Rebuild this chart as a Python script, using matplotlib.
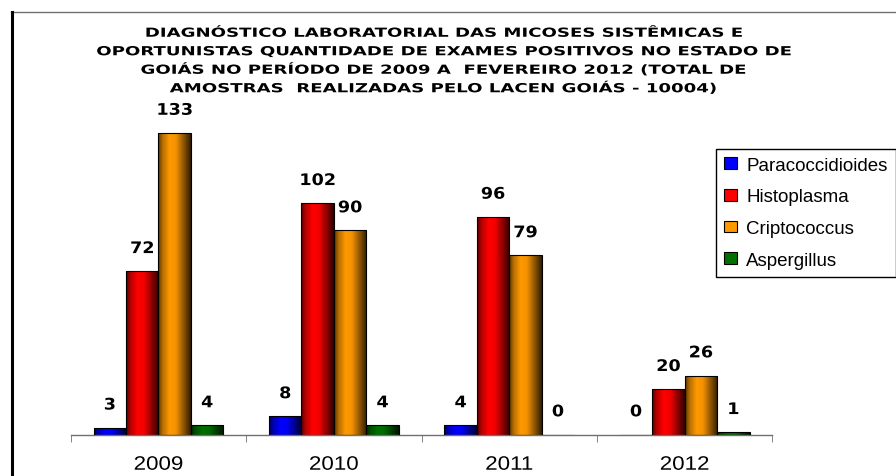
import numpy as np
import matplotlib
matplotlib.use("Agg")
import matplotlib.pyplot as plt
from matplotlib.lines import Line2D
from matplotlib.colors import to_rgb
from matplotlib.patheffects import AbstractPathEffect
from matplotlib.transforms import Affine2D

anos = ["2009", "2010", "2011", "2012"]
paracoccidioides = [3, 8, 4, 0]
histoplasma = [72, 102, 96, 20]
criptococcus = [133, 90, 79, 26]
aspergillus = [4, 4, 0, 1]

series = [
    ("Paracoccidioides", paracoccidioides, "#0000ff"),
    ("Histoplasma", histoplasma, "#ff0000"),
    ("Criptococcus", criptococcus, "#ff9900"),
    ("Aspergillus", aspergillus, "#007000"),
]

titulo = ("DIAGNÓSTICO LABORATORIAL DAS MICOSES SISTÊMICAS E\n"
          "OPORTUNISTAS QUANTIDADE DE EXAMES POSITIVOS NO ESTADO DE\n"
          "GOIÁS NO PERÍODO DE 2009 A  FEVEREIRO 2012 (TOTAL DE\n"
          "AMOSTRAS  REALIZADAS PELO LACEN GOIÁS - 10004)")


class Stretch(AbstractPathEffect):
    """widen the glyphs horizontally, about the text centre"""
    def __init__(self, sx):
        super().__init__()
        self.sx = sx

    def draw_path(self, renderer, gc, tpath, affine, rgbFace=None):
        xs = affine.transform(tpath.vertices)[:, 0]
        cx = (xs.min() + xs.max()) / 2
        t = affine + Affine2D().translate(-cx, 0).scale(self.sx, 1).translate(cx, 0)
        gc0 = renderer.new_gc()
        gc0.copy_properties(gc)
        renderer.draw_path(gc0, tpath, t, rgbFace)
        gc0.restore()


W, H = 896, 477
fig = plt.figure(figsize=(W / 100, H / 100), dpi=100)
ax = fig.add_axes([0.079, 0.087, 0.783, 0.713])

# cylinder-like shading across each bar
t = np.linspace(0, 1, 40)
shade = np.interp(t, [0, 0.12, 0.35, 0.55, 0.85, 1.0], [0.35, 0.7, 1.0, 0.95, 0.45, 0.2])

w = 0.185
x = np.arange(len(anos))
for i, (nome, vals, cor) in enumerate(series):
    pos = x + (i - 1.5) * w
    bars = ax.bar(pos, vals, w, color=cor, edgecolor="black", linewidth=0.8,
                  label=nome, zorder=3)
    rgb = np.array(to_rgb(cor))
    grad = (shade[:, None] * rgb[None, :])[None, :, :]
    for b, v in zip(bars, vals):
        if v > 0:
            b.set_facecolor("none")
            im = ax.imshow(grad, extent=[b.get_x(), b.get_x() + w, 0, v],
                           aspect="auto", zorder=2, interpolation="bilinear")
            im.set_clip_path(b)
        ax.text(b.get_x() + w / 2, v + 10, str(v), ha="center", va="center",
                fontsize=11.5, fontweight="bold", family="DejaVu Sans",
                path_effects=[Stretch(1.1)])

ax.set_xlim(-0.5, 3.5)
ax.set_ylim(0, 150)
ax.set_aspect("auto")

for s in ["top", "right", "left"]:
    ax.spines[s].set_visible(False)
ax.spines["bottom"].set_color("#707070")
ax.spines["bottom"].set_linewidth(1)
ax.set_yticks([])
ax.set_xticks(x)
ax.set_xticklabels(anos, family="Liberation Sans", fontsize=14)
for lab in ax.get_xticklabels():
    lab.set_path_effects([Stretch(1.15)])
ax.tick_params(axis="x", which="major", length=0, pad=16)
ax.set_xticks(np.arange(-0.5, 4, 1), minor=True)
ax.tick_params(axis="x", which="minor", length=5, color="#707070", direction="out")

fig.text(443 / W, 1 - 62 / H, titulo, ha="center", va="center", fontsize=9,
         fontweight="bold", family="DejaVu Sans", linespacing=1.55,
         path_effects=[Stretch(1.45)])

# legend with a plain black frame
leg = fig.legend(loc="upper left", bbox_to_anchor=(716 / W, 1 - 150 / H),
                 frameon=True, fancybox=False, edgecolor="black",
                 facecolor="white", framealpha=1,
                 prop={"family": "Liberation Sans", "size": 13.5},
                 handlelength=0.7, handleheight=0.6, handletextpad=0.5,
                 labelspacing=0.78, borderpad=0.42, borderaxespad=0)
leg.get_frame().set_linewidth(1.0)
for h, (_, _, cor) in zip(leg.legend_handles, series):
    h.set_facecolor(cor)
    h.set_edgecolor("black")

# page frame lines
fig.add_artist(Line2D([11 / W, 1], [1 - 13 / H] * 2, color="#707070", lw=1))
fig.add_artist(Line2D([12 / W] * 2, [0, 1 - 13 / H], color="black", lw=2.2))

fig.savefig("out.png", dpi=100)
